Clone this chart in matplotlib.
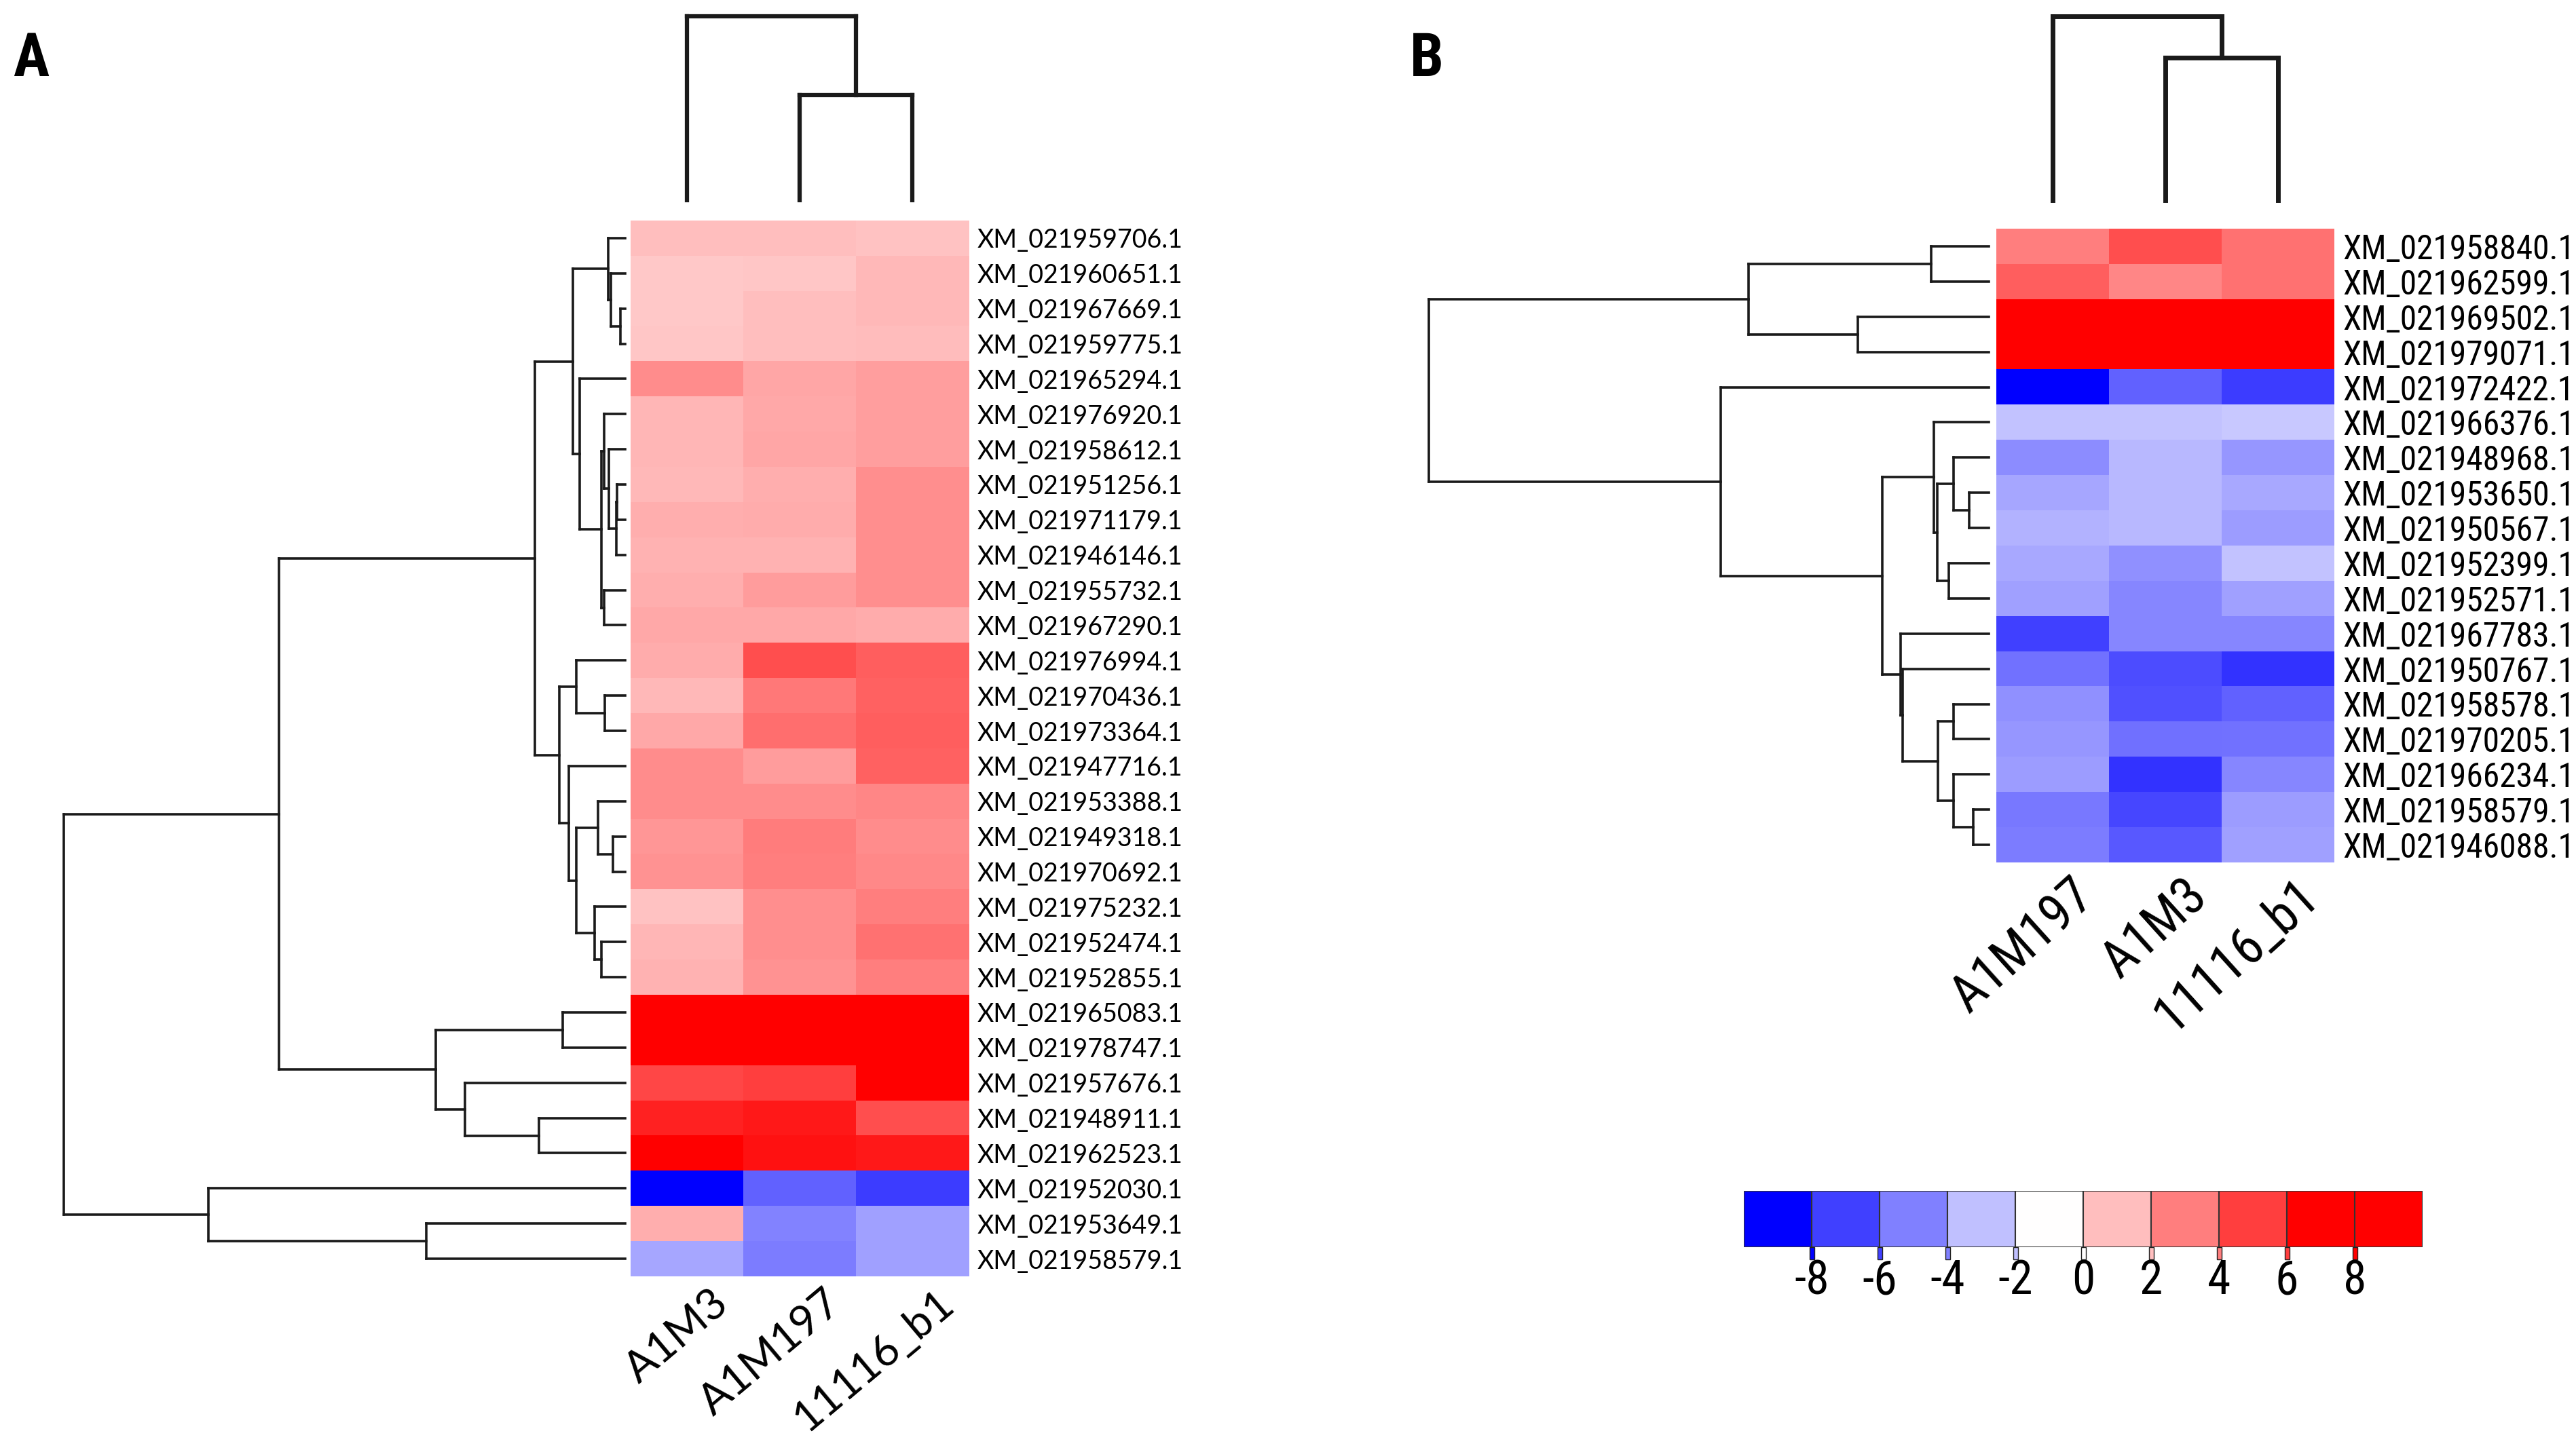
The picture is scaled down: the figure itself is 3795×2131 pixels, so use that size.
import numpy as np
import matplotlib
matplotlib.use('Agg')
import matplotlib.pyplot as plt
from matplotlib import transforms, font_manager
from matplotlib.textpath import TextPath

# ---- datos panel A ----
samples_a = ['A1M3', 'A1M197', '11116_b1']
genes_a = ['XM_021959706.1', 'XM_021960651.1', 'XM_021967669.1', 'XM_021959775.1',
           'XM_021965294.1', 'XM_021976920.1', 'XM_021958612.1', 'XM_021951256.1',
           'XM_021971179.1', 'XM_021946146.1', 'XM_021955732.1', 'XM_021967290.1',
           'XM_021976994.1', 'XM_021970436.1', 'XM_021973364.1', 'XM_021947716.1',
           'XM_021953388.1', 'XM_021949318.1', 'XM_021970692.1', 'XM_021975232.1',
           'XM_021952474.1', 'XM_021952855.1', 'XM_021965083.1', 'XM_021978747.1',
           'XM_021957676.1', 'XM_021948911.1', 'XM_021962523.1', 'XM_021952030.1',
           'XM_021953649.1', 'XM_021958579.1']
values_a = [[2.0, 2.0, 1.9], [1.7, 1.8, 2.2], [1.7, 2.0, 2.2], [1.8, 2.0, 2.1],
            [3.6, 2.8, 3.0], [2.3, 2.7, 3.0], [2.3, 2.8, 3.0], [2.2, 2.5, 3.5],
            [2.5, 2.6, 3.5], [2.4, 2.4, 3.5], [2.5, 3.1, 3.5], [2.7, 2.7, 2.6],
            [2.6, 5.5, 5.0], [2.2, 4.2, 4.9], [2.7, 4.5, 5.0], [3.6, 3.1, 4.9],
            [3.6, 3.6, 3.8], [3.3, 4.1, 3.6], [3.4, 4.0, 3.7], [1.9, 3.5, 4.0],
            [2.3, 3.5, 4.4], [2.4, 3.4, 4.0], [9.0, 9.0, 9.0], [9.0, 9.0, 9.0],
            [5.8, 6.0, 8.5], [6.9, 7.2, 5.5], [8.2, 7.4, 7.2], [-8.5, -4.9, -6.1],
            [2.5, -3.9, -3.0], [-2.8, -4.1, -3.0]]
# arboles: [hijo, hijo, ..., altura]; hojas = indice de fila
row_tree_a = [[[[0, [1, [2, 3, 7], 21], 25],
                [4, [[5, [6, [[7, 8, 12], 9, 13], 24], 31], [10, 11, 31], 35], 67], 77],
               [[12, [13, 14, 30], 72],
                [15, [[16, [17, 18, 18], 40], [19, [20, 21, 35], 45], 72], 83], 97], 133],
              [[22, 23, 92], [24, [25, 26, 127], 236], 279], 510]
row_tree_a = [row_tree_a, [27, [28, 29, 293], 614], 827]
col_tree_a = [0, [1, 2, 155], 271]

# ---- datos panel B ----
samples_b = ['A1M197', 'A1M3', '11116_b1']
genes_b = ['XM_021958840.1', 'XM_021962599.1', 'XM_021969502.1', 'XM_021979071.1',
           'XM_021972422.1', 'XM_021966376.1', 'XM_021948968.1', 'XM_021953650.1',
           'XM_021950567.1', 'XM_021952399.1', 'XM_021952571.1', 'XM_021967783.1',
           'XM_021950767.1', 'XM_021958578.1', 'XM_021970205.1', 'XM_021966234.1',
           'XM_021958579.1', 'XM_021946088.1']
values_b = [[4.0, 5.5, 4.4], [5.0, 3.8, 4.4], [8.5, 8.2, 8.4], [8.5, 8.3, 8.5],
            [-8.5, -4.9, -6.1], [-1.9, -1.9, -1.7], [-3.6, -2.2, -3.3], [-2.8, -2.2, -2.7],
            [-2.4, -2.2, -3.1], [-2.7, -3.5, -1.9], [-3.0, -3.8, -3.0], [-6.0, -3.8, -3.8],
            [-4.4, -5.6, -6.4], [-3.5, -5.5, -4.9], [-3.3, -4.5, -4.4], [-3.1, -6.4, -3.8],
            [-4.2, -5.8, -3.1], [-4.1, -5.2, -3.0]]
row_tree_b = [[[0, 1, 85], [2, 3, 193], 354],
              [4, [[5, [[6, [7, 8, 29], 52], [9, 10, 59], 76], 81],
                   [11, [12, [[13, 14, 52], [15, [16, 17, 23], 52], 75], 127], 130], 157], 395],
              825]
col_tree_b = [0, [1, 2, 210], 271]

# leyenda
cbar_edges = [-10, -8, -6, -4, -2, 0, 2, 4, 6, 8, 10]
cbar_ticks = [-8, -6, -4, -2, 0, 2, 4, 6, 8]

W, H = 3795, 2131
cmap = plt.get_cmap('bwr')
norm = plt.Normalize(-8, 8)

installed = {f.name for f in font_manager.fontManager.ttflist}
narrow = next((f for f in ['Liberation Sans Narrow', 'Roboto Condensed', 'DejaVu Sans Condensed',
                           'Open Sans Condensed'] if f in installed), 'Liberation Sans')
font_a = ['Lato', 'DejaVu Sans']
font_b = [narrow, 'DejaVu Sans']


def fit_size(text, family, target_px, weight='normal'):
    # tamaño (pt) para que el texto tenga el ancho del original
    fp = font_manager.FontProperties(family=family, weight=weight)
    w = TextPath((0, 0), text, size=10, prop=fp).get_extents().width * 100 / 72
    return 10 * target_px / w


size_b = fit_size('XM_021958840.1', narrow, 332)
size_cb = fit_size('-8', narrow, 46)

fig = plt.figure(figsize=(W / 100, H / 100), dpi=100)


def px_axes(x0, y0, x1, y1):
    ax = fig.add_axes([x0 / W, 1 - y1 / H, (x1 - x0) / W, (y1 - y0) / H])
    ax.set_axis_off()
    return ax


def draw_tree(ax, node, orient, lw):
    # dibuja el arbol y devuelve (posicion, altura) del nodo
    if isinstance(node, int):
        return node + 0.5, 0
    pos, hs = [], []
    for child in node[:-1]:
        p, h = draw_tree(ax, child, orient, lw)
        pos.append(p)
        hs.append(h)
    h = node[-1]
    segs = [([hc, h], [pc, pc]) for pc, hc in zip(pos, hs)]
    segs.append(([h, h], [min(pos), max(pos)]))
    for a, b in segs:
        if orient == 'left':
            ax.plot(a, b, color='#1a1a1a', lw=lw, solid_capstyle='projecting', clip_on=False)
        else:
            ax.plot(b, a, color='#1a1a1a', lw=lw, solid_capstyle='projecting', clip_on=False)
    return (min(pos) + max(pos)) / 2, h


def panel(values, genes, samples, row_tree, col_tree, hm, leaf_x, dendro_x0,
          col_lw, row_lw, label_font, label_size, col_size, col_rot, col_dx, col_dy):
    n = len(genes)
    x0, y0, x1, y1 = hm
    ax = fig.add_axes([x0 / W, 1 - y1 / H, (x1 - x0) / W, (y1 - y0) / H])
    ax.imshow(np.array(values), cmap=cmap, norm=norm, aspect='auto',
              interpolation='nearest', extent=(0, 3, n, 0))
    ax.set_xlim(0, 3)
    ax.set_ylim(n, 0)
    for s in ax.spines.values():
        s.set_visible(False)
    ax.set_xticks([])
    ax.yaxis.tick_right()
    ax.set_yticks(np.arange(n) + 0.5)
    ax.set_yticklabels(genes, family=label_font, fontsize=label_size)
    ax.tick_params(axis='y', length=0, pad=9)
    off = transforms.offset_copy(ax.transData, fig=fig, x=col_dx, y=col_dy, units='dots')
    for i, s in enumerate(samples):
        ax.text(i + 0.5, n, s, transform=off, rotation=col_rot, rotation_mode='anchor',
                ha='right', va='top', family=label_font, fontsize=col_size)

    # dendrograma de filas
    rd = px_axes(dendro_x0, y0, leaf_x, y1)
    draw_tree(rd, row_tree, 'left', row_lw)
    rd.set_xlim(leaf_x - dendro_x0, 0)
    rd.set_ylim(n, 0)

    # dendrograma de columnas
    cd = px_axes(x0, 0, x1, 295)
    draw_tree(cd, col_tree, 'top', col_lw)
    cd.set_xlim(0, 3)
    cd.set_ylim(0, 295)


panel(values_a, genes_a, samples_a, row_tree_a, col_tree_a, (929, 325, 1427, 1881),
      921, 0, 4.5, 2.6, font_a, 27, 46, 40, 35, -10)
panel(values_b, genes_b, samples_b, row_tree_b, col_tree_b, (2941, 337, 3439, 1271),
      2930, 2080, 5.0, 2.6, font_b, size_b, size_b * 1.55, 42, 25, -10)

# barra de color
cb = px_axes(2569, 1755, 3569, 1838)
for lo, hi in zip(cbar_edges[:-1], cbar_edges[1:]):
    v = max(min(hi, 8), -8)
    cb.bar(lo, 1, width=hi - lo, align='edge', color=cmap(norm(v)),
           edgecolor='#333333', linewidth=1.5)
for t in cbar_ticks:
    cb.bar(t, 0.22, width=0.14, bottom=-0.22, color=cmap(norm(t)),
           edgecolor='#222222', linewidth=1, clip_on=False)
    cb.text(t, -0.6, str(t), ha='center', va='center', family=font_b, fontsize=size_cb)
cb.set_xlim(-10, 10)
cb.set_ylim(0, 1)

fig.text(19 / W, 1 - 88 / H, 'A', family=font_b, fontweight='bold', fontsize=64, va='center')
fig.text(2077 / W, 1 - 88 / H, 'B', family=font_b, fontweight='bold', fontsize=64, va='center')

fig.savefig('out.png', dpi=100, facecolor='white')
